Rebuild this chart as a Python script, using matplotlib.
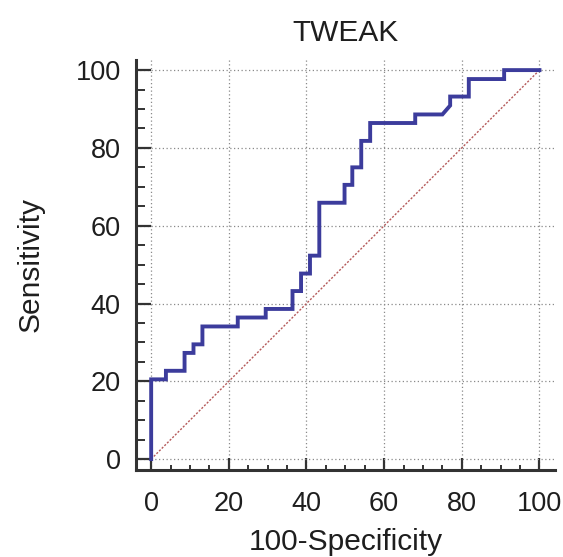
import matplotlib
matplotlib.use("Agg")
import matplotlib.pyplot as plt
from matplotlib.ticker import MultipleLocator

# ROC curve vertices (100-Specificity, Sensitivity)
fpr = [0, 0, 3.8, 3.8, 8.6, 8.6, 10.9, 10.9, 13.2, 13.2, 22.3, 22.3, 29.5, 29.5,
       36.4, 36.4, 38.6, 38.6, 40.9, 40.9, 43.3, 43.3, 49.8, 49.8, 51.8, 51.8,
       54.1, 54.1, 56.4, 56.4, 68.0, 68.0, 75.0, 77.0, 77.0, 81.8, 81.8, 90.9,
       90.9, 100]
tpr = [0, 20.5, 20.5, 22.7, 22.7, 27.3, 27.3, 29.5, 29.5, 34.1, 34.1, 36.4, 36.4,
       38.6, 38.6, 43.2, 43.2, 47.7, 47.7, 52.3, 52.3, 65.9, 65.9, 70.5, 70.5,
       75.0, 75.0, 81.8, 81.8, 86.4, 86.4, 88.6, 88.6, 90.9, 93.2, 93.2, 97.7,
       97.7, 100, 100]
ref_line = [0, 100]
ticks = [0, 20, 40, 60, 80, 100]

plt.rcParams['font.family'] = ['Liberation Sans', 'DejaVu Sans']

fig = plt.figure(figsize=(5.63, 5.57), dpi=100)
ax = fig.add_axes([0.2416, 0.1562, 0.9858 - 0.2416, 0.8923 - 0.1562])

ax.plot(ref_line, ref_line, linestyle=(0, (1.5, 1.2)), color='#b55a5a', linewidth=1.0, zorder=2)
ax.plot(fpr, tpr, color='#3c3c9c', linewidth=2.8, solid_joinstyle='miter', zorder=3)

ax.set_xlim(-3.9, 104)
ax.set_ylim(-2.8, 102.6)
ax.set_xticks(ticks)
ax.set_yticks(ticks)
ax.xaxis.set_minor_locator(MultipleLocator(5))
ax.yaxis.set_minor_locator(MultipleLocator(5))

ax.grid(True, which='major', linestyle=(0, (1, 2)), color='#8a8a8a', linewidth=0.9)
ax.set_axisbelow(True)

for s in ['top', 'right']:
    ax.spines[s].set_visible(False)
for s in ['left', 'bottom']:
    ax.spines[s].set_linewidth(2.2)
    ax.spines[s].set_color('#333333')

ax.tick_params(axis='both', which='major', direction='in', width=1.6, color='#333333',
               labelsize=19.5, labelcolor='#1e1e1e')
ax.tick_params(axis='y', which='major', length=11, pad=11)
ax.tick_params(axis='x', which='major', length=9, pad=15)
ax.tick_params(axis='y', which='minor', direction='in', length=6.5, width=1.4, color='#333333')
ax.tick_params(axis='x', which='minor', direction='in', length=3.5, width=1.4, color='#333333')

ax.set_xlabel('100-Specificity', fontsize=21.5, color='#1e1e1e', labelpad=8)
ax.set_ylabel('Sensitivity', fontsize=21.5, color='#1e1e1e', labelpad=22)
ax.set_title('TWEAK', fontsize=21.5, color='#1e1e1e', pad=14)

fig.savefig('out.png', dpi=100)
